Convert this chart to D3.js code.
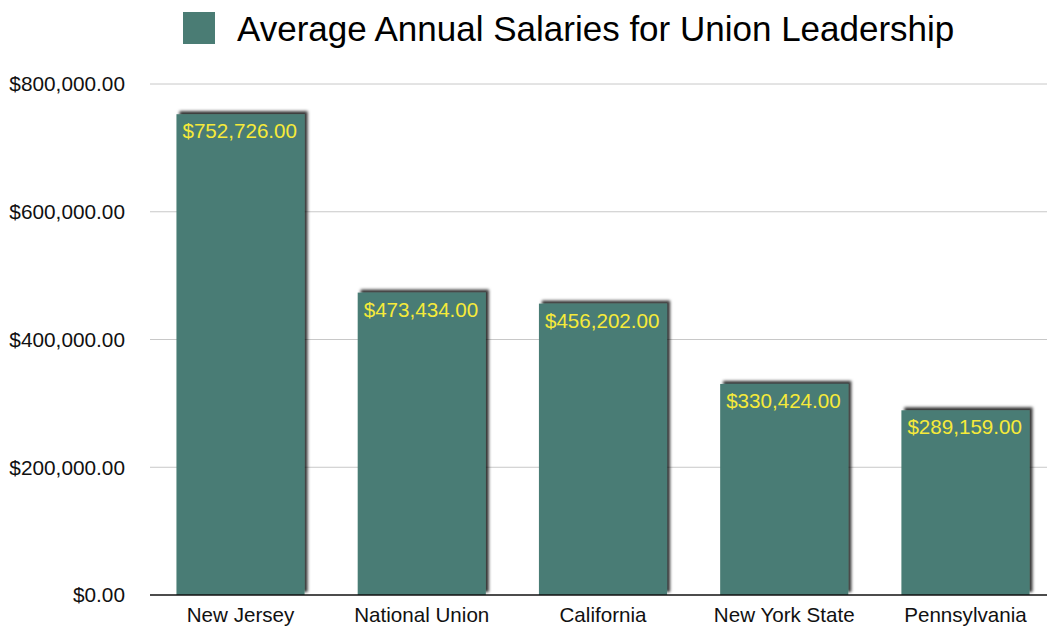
<!DOCTYPE html>
<html>
<head>
<meta charset="utf-8">
<script src="https://cdn.jsdelivr.net/npm/d3@7"></script>
<style>
  html, body { margin: 0; padding: 0; background: #fff; }
  svg { display: block; font-family: "Liberation Sans", Arial, Helvetica, sans-serif; }
</style>
</head>
<body>
<div id="chart"></div>
<script>
const categories = ['New Jersey', 'National Union', 'California', 'New York State', 'Pennsylvania'];
const salaries = [752726, 473434, 456202, 330424, 289159];
const yTicks = [0, 200000, 400000, 600000, 800000];
const seriesName = 'Average Annual Salaries for Union Leadership';

const W = 1047, H = 628;
const BAR = '#4a7c74', LABEL = '#f6ea3a';
const data = categories.map((c, i) => ({ c, v: salaries[i] }));
const money = d3.format('$,.2f');

const svg = d3.select('#chart').append('svg').attr('width', W).attr('height', H);

const defs = svg.append('defs');
defs.append('filter').attr('id', 'shadow').attr('x', '-10%').attr('y', '-10%').attr('width', '130%').attr('height', '130%')
  .append('feDropShadow').attr('dx', 3).attr('dy', -3).attr('stdDeviation', 1.8)
  .attr('flood-color', '#000').attr('flood-opacity', 0.8);

const x = d3.scaleBand().domain(categories).range([150, 1056]).paddingInner(0.293).paddingOuter(0.146);
const y = d3.scaleLinear().domain([0, 800000]).range([595, 84]);

// gridlines
svg.append('g').selectAll('line').data(yTicks.filter(t => t > 0)).join('line')
  .attr('x1', 150).attr('x2', W).attr('y1', d => y(d)).attr('y2', d => y(d))
  .attr('stroke', '#c8c8c8').attr('stroke-width', 1);

// y tick labels
svg.append('g').selectAll('text').data(yTicks).join('text')
  .attr('x', 125).attr('y', d => y(d)).attr('dy', '0.35em')
  .attr('text-anchor', 'end').attr('font-size', 20.8).attr('fill', '#111')
  .text(d => money(d));

// bars
const bars = svg.append('g').selectAll('g').data(data).join('g');
bars.append('rect')
  .attr('x', d => x(d.c)).attr('y', d => y(d.v))
  .attr('width', x.bandwidth()).attr('height', d => y(0) - y(d.v))
  .attr('fill', BAR).attr('filter', 'url(#shadow)');
bars.append('text')
  .attr('x', d => x(d.c) + 6).attr('y', d => y(d.v) + 24)
  .attr('font-size', 20.6).attr('fill', LABEL)
  .text(d => money(d.v));

// baseline
svg.append('line').attr('x1', 150).attr('x2', W).attr('y1', y(0)).attr('y2', y(0))
  .attr('stroke', '#111').attr('stroke-width', 1.5);

// category labels
svg.append('g').selectAll('text').data(categories).join('text')
  .attr('x', d => x(d) + x.bandwidth() / 2).attr('y', 622)
  .attr('text-anchor', 'middle').attr('font-size', 20.6).attr('fill', '#111')
  .text(d => d);

// legend
const leg = svg.append('g');
leg.append('rect').attr('x', 183).attr('y', 12).attr('width', 32).attr('height', 32).attr('fill', BAR);
leg.append('text').attr('x', 237).attr('y', 41).attr('font-size', 35).attr('fill', '#000')
  .text(seriesName);
</script>
</body>
</html>
